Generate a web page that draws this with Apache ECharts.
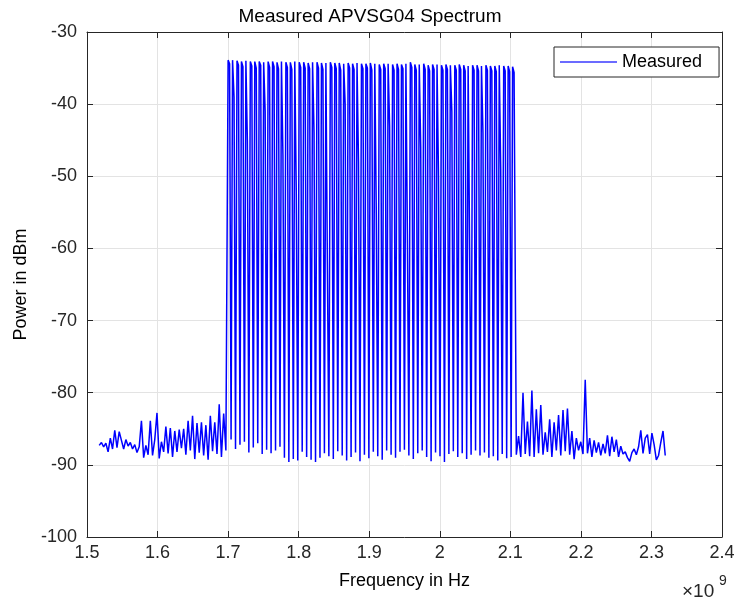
<!DOCTYPE html>
<html>
<head>
<meta charset="utf-8">
<script src="https://cdn.jsdelivr.net/npm/echarts@6/dist/echarts.min.js"></script>
<style>
html,body{margin:0;padding:0;background:#fff;}
#chart{width:740px;height:602px;}
</style>
</head>
<body>
<div id="chart"></div>
<script>
// ---- Data ----
const seriesName = 'Measured';
const xTickValuesGHz = [1.5, 1.6, 1.7, 1.8, 1.9, 2.0, 2.1, 2.2, 2.3, 2.4];
const yTickValues = [-100, -90, -80, -70, -60, -50, -40, -30];

// sampling of the three spectrum segments (Hz)
const leftStartHz = 1.5173e9, leftStepHz = 3.15e6;
const bandStartHz = 1.7000e9, bandStepHz = 2.1e6;   // 3 samples per tone
const rightStartHz = 2.1085e9, rightStepHz = 3.15e6;

// noise floor below the band, 1.517 .. 1.697 GHz (dBm)
const leftNoise = [
  -87.3,-86.9,-87.5,-87.0,-88.2,-86.3,-87.8,-85.2,-87.6,-85.4,
  -86.6,-87.8,-86.5,-87.4,-86.9,-87.8,-87.2,-88.3,-87.5,-83.9,
  -89.0,-87.3,-88.6,-83.9,-88.7,-86.5,-82.8,-89.1,-86.8,-88.2,
  -84.7,-88.4,-84.9,-88.9,-85.3,-88.2,-85.1,-87.7,-85.0,-88.6,
  -83.9,-88.0,-83.2,-89.2,-84.2,-88.3,-84.1,-88.7,-84.5,-89.3,
  -83.2,-88.1,-84.1,-88.5,-81.6,-88.9,-82.9,-88.0
];

// tone peaks inside the band, 1.700 .. 2.103 GHz (dBm)
const bandPeaks = [
  -33.9,-33.9,-34.0,-34.1,-34.0,-34.1,-34.1,-34.1,-34.2,-34.1,
  -34.1,-34.2,-34.1,-34.2,-34.2,-34.1,-34.2,-34.2,-34.3,-34.2,
  -34.2,-34.3,-34.3,-34.2,-34.3,-34.3,-34.4,-34.3,-34.4,-34.3,
  -34.4,-34.4,-34.3,-34.4,-34.5,-34.4,-34.4,-34.5,-34.4,-34.5,
  -34.4,-34.2,-34.5,-34.5,-34.4,-34.6,-34.5,-34.5,-34.6,-34.5,
  -34.6,-34.6,-34.5,-34.6,-34.7,-34.6,-34.6,-34.7,-34.6,-34.7,
  -34.7,-34.6,-34.7,-34.7,-34.8
];

// second bin of each tone (leakage next to the peak, dBm)
const bandSide = [
  -34.4,-39.0,-34.6,-34.8,-45.0,-34.7,-35.0,-34.6,-41.0,-34.9,
  -34.8,-35.1,-47.0,-34.9,-35.2,-52.0,-34.9,-35.0,-35.1,-44.0,
  -35.0,-35.2,-62.0,-34.9,-35.1,-35.3,-40.0,-35.0,-35.2,-48.0,
  -35.1,-35.0,-35.3,-55.0,-35.2,-35.1,-43.0,-35.3,-35.2,-35.1,
  -58.0,-34.9,-35.3,-46.0,-35.2,-35.4,-35.2,-50.0,-35.3,-35.2,
  -41.0,-35.3,-35.2,-35.4,-60.0,-35.3,-35.4,-44.0,-35.3,-35.4,
  -35.5,-49.0,-35.4,-35.5,-35.6
];

// minima between the tones (dBm)
const bandTroughs = [
  -86.5,-87.8,-87.2,-86.8,-88.3,-87.6,-87.0,-88.5,-87.9,-88.4,
  -88.0,-87.5,-89.0,-89.6,-89.2,-89.4,-88.2,-88.9,-89.3,-89.6,
  -89.0,-88.4,-88.8,-89.2,-88.1,-88.7,-89.4,-88.9,-88.3,-89.5,
  -88.6,-89.1,-88.2,-88.8,-89.3,-88.0,-88.6,-89.0,-88.2,-87.9,
  -88.7,-89.2,-88.4,-88.0,-88.9,-89.5,-88.3,-88.8,-89.6,-88.5,
  -88.1,-88.9,-88.4,-89.2,-88.6,-88.0,-88.7,-88.3,-89.0,-88.8,
  -89.4,-88.5,-89.1,-88.9
];

// noise floor above the band, 2.108 .. 2.320 GHz (dBm)
const rightNoise = [
  -88.6,-86.0,-88.9,-80.0,-88.5,-84.0,-88.8,-79.7,-88.9,-82.3,
  -88.4,-81.7,-88.6,-85.5,-88.2,-83.7,-88.9,-84.1,-88.0,-83.1,
  -88.7,-82.4,-88.1,-82.2,-88.6,-85.3,-89.2,-86.3,-88.0,-86.8,
  -88.5,-78.2,-88.4,-86.3,-88.9,-86.6,-88.3,-86.9,-88.7,-87.1,
  -88.4,-85.9,-88.8,-86.1,-88.2,-86.5,-88.9,-87.4,-88.5,-88.2,
  -89.0,-89.5,-88.3,-87.8,-88.6,-87.5,-85.2,-88.4,-86.3,-85.8,
  -88.5,-85.6,-87.2,-89.3,-88.7,-86.9,-85.3,-88.7
];

// ---- assemble the spectrum ----
const spectrum = [];
leftNoise.forEach((p, i) => spectrum.push([leftStartHz + i * leftStepHz, p]));
const bandSamples = [];
for (let k = 0; k < bandPeaks.length; k++) {
  bandSamples.push(bandPeaks[k], bandSide[k]);
  if (k < bandTroughs.length) bandSamples.push(bandTroughs[k]);
}
bandSamples.forEach((p, i) => spectrum.push([bandStartHz + i * bandStepHz, p]));
rightNoise.forEach((p, i) => spectrum.push([rightStartHz + i * rightStepHz, p]));

const axisColor = '#262626';
const gridColor = '#e3e3e3';
const fontFam = '"Liberation Sans", Arial, Helvetica, sans-serif';

const chart = echarts.init(document.getElementById('chart'), null, {renderer: 'canvas'});

const xFmt = v => String(parseFloat((v / 1e9).toFixed(2)));

const option = {
  animation: false,
  backgroundColor: '#fff',
  textStyle: {fontFamily: fontFam},
  title: {
    text: 'Measured APVSG04 Spectrum',
    left: 'center',
    top: 2,
    textStyle: {fontSize: 19, fontWeight: 'normal', color: '#000', fontFamily: fontFam}
  },
  grid: {left: 87, right: 18, top: 32, bottom: 65, show: false, containLabel: false},
  legend: {
    data: [{name: seriesName, icon: 'rect'}],
    left: 554, top: 47,
    itemWidth: 57, itemHeight: 1.5,
    itemStyle: {color: '#3a3aff'},
    borderColor: axisColor, borderWidth: 1, borderRadius: 0,
    backgroundColor: '#fff',
    padding: [6, 17, 6, 6],
    textStyle: {fontSize: 18, color: '#000', fontFamily: fontFam, lineHeight: 18}
  },
  xAxis: [
    {
      type: 'value', position: 'bottom',
      min: xTickValuesGHz[0] * 1e9, max: xTickValuesGHz[xTickValuesGHz.length - 1] * 1e9, interval: 1e8,
      name: 'Frequency in Hz', nameLocation: 'middle', nameGap: 35,
      nameTextStyle: {fontSize: 18, color: '#000', fontFamily: fontFam},
      axisLine: {show: true, onZero: false, lineStyle: {color: axisColor, width: 1}},
      axisTick: {show: true, inside: true, length: 6, lineStyle: {color: axisColor}},
      axisLabel: {formatter: xFmt, fontSize: 18, color: axisColor, margin: 7, fontFamily: fontFam},
      splitLine: {show: true, lineStyle: {color: gridColor, width: 1}}
    },
    {
      type: 'value', position: 'top',
      min: xTickValuesGHz[0] * 1e9, max: xTickValuesGHz[xTickValuesGHz.length - 1] * 1e9, interval: 1e8,
      axisLine: {show: true, onZero: false, lineStyle: {color: axisColor, width: 1}},
      axisTick: {show: true, inside: true, length: 6, lineStyle: {color: axisColor}},
      axisLabel: {show: false},
      splitLine: {show: false}
    }
  ],
  yAxis: [
    {
      type: 'value', position: 'left',
      min: yTickValues[0], max: yTickValues[yTickValues.length - 1], interval: 10,
      name: 'Power in dBm', nameLocation: 'middle', nameGap: 54,
      nameTextStyle: {fontSize: 18, color: '#000', fontFamily: fontFam},
      axisLine: {show: true, onZero: false, lineStyle: {color: axisColor, width: 1}},
      axisTick: {show: true, inside: true, length: 6, lineStyle: {color: axisColor}},
      axisLabel: {fontSize: 18, color: axisColor, margin: 10, fontFamily: fontFam},
      splitLine: {show: true, lineStyle: {color: gridColor, width: 1}}
    },
    {
      type: 'value', position: 'right',
      min: yTickValues[0], max: yTickValues[yTickValues.length - 1], interval: 10,
      axisLine: {show: true, onZero: false, lineStyle: {color: axisColor, width: 1}},
      axisTick: {show: true, inside: true, length: 6, lineStyle: {color: axisColor}},
      axisLabel: {show: false},
      splitLine: {show: false}
    }
  ],
  series: [
    {
      name: seriesName,
      type: 'line',
      xAxisIndex: 0, yAxisIndex: 0,
      data: spectrum,
      symbol: 'none',
      showSymbol: false,
      sampling: null,
      lineStyle: {color: '#0000ff', width: 1.5},
      itemStyle: {color: '#0000ff'},
      clip: true
    }
  ],
  graphic: [
    {type: 'text', left: 682, top: 582, style: {text: '\u00d710', fontSize: 19, fill: axisColor, fontFamily: fontFam}},
    {type: 'text', left: 719, top: 574, style: {text: '9', fontSize: 14, fill: axisColor, fontFamily: fontFam}}
  ]
};
chart.setOption(option);
</script>
</body>
</html>
